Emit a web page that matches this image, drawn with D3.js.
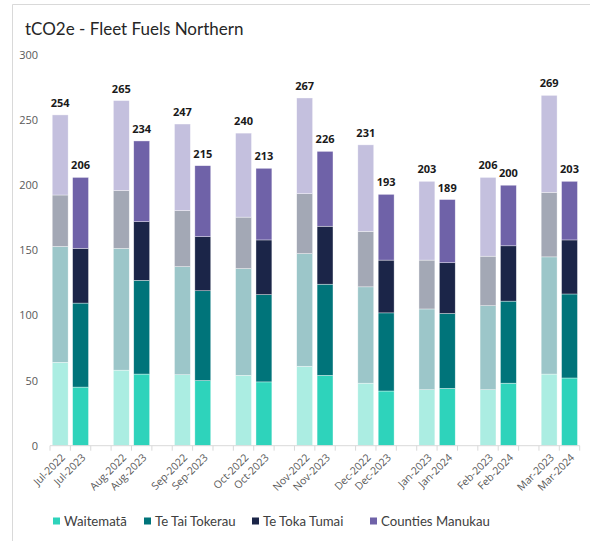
<!DOCTYPE html>
<html>
<head>
<meta charset="utf-8">
<script src="https://cdn.jsdelivr.net/npm/d3@7"></script>
<style>
	body { margin: 0; background: #fff; }
	svg { display: block; }
</style>
</head>
<body>
<div class="thegraph"></div>
<script>
var months = ["Jul-2022", "Jul-2023", "Aug-2022", "Aug-2023", "Sep-2022", "Sep-2023",
              "Oct-2022", "Oct-2023", "Nov-2022", "Nov-2023", "Dec-2022", "Dec-2023",
              "Jan-2023", "Jan-2024", "Feb-2023", "Feb-2024", "Mar-2023", "Mar-2024"];
var seriesNames = ["Waitematā", "Te Tai Tokerau", "Te Toka Tumai", "Counties Manukau"];
var waitemata = [64, 45, 58, 55, 54.5, 50, 54, 49, 61, 54, 48, 42, 43, 44, 43, 48, 55, 52];
var teTaiTokerau = [89, 64.5, 93.5, 72, 83, 69, 82, 67, 86.5, 70, 74, 60, 62, 57.5, 64.5, 63, 90, 64.5];
var teTokaTumai = [39.5, 42, 44.5, 45, 43, 41.5, 39.5, 42, 46, 44.5, 42.5, 40.5, 37.5, 39, 38, 42.5, 49.5, 41.5];
var countiesManukau = [61.5, 54.5, 69, 62, 66.5, 54.5, 64.5, 55, 73.5, 57.5, 66.5, 50.5, 60.5, 48.5, 60.5, 46.5, 74.5, 45];
var yTicks = [0, 50, 100, 150, 200, 250, 300];

// colours: [previous year, current year]
var colours = [
	["#abede2", "#2ed3bb"],
	["#9cc6c9", "#00747a"],
	["#a3a8b5", "#1b2548"],
	["#c4c0de", "#6f62a8"]
];

var w = 590;
var h = 541;
var plotLeft = 50, plotRight = 579.7, plotTop = 55, plotBottom = 445.7;

var svg = d3.select(".thegraph").append("svg")
	.attr("width", w)
	.attr("height", h)
	;

// frame
svg.append("path")
	.attr("d", "M12.5," + h + "V4.5H" + w)
	.attr("fill", "none")
	.attr("stroke", "#d9d9d9")
	.attr("stroke-width", 1)
	;

svg.append("text")
	.text("tCO2e - Fleet Fuels Northern")
	.attr("x", 25)
	.attr("y", 35)
	.attr("font-family", "Lato, sans-serif")
	.attr("font-size", "17px")
	.attr("fill", "#262626")
	;

// 3 slots per month pair: year 1, year 2, gap (no gap after last)
var slots = d3.range(months.length / 2 * 3 - 1);
var slotOf = function(i) { return Math.floor(i / 2) * 3 + i % 2; };

var x = d3.scaleBand()
	.domain(slots)
	.range([plotLeft, plotRight])
	.padding(0)
	;
var y = d3.scaleLinear()
	.domain([0, 300])
	.range([plotBottom, plotTop])
	;

var rows = months.map(function(m, i) {
	return {
		month: m,
		i: i,
		"Waitematā": waitemata[i],
		"Te Tai Tokerau": teTaiTokerau[i],
		"Te Toka Tumai": teTokaTumai[i],
		"Counties Manukau": countiesManukau[i]
	};
});
var stacked = d3.stack().keys(seriesNames)(rows);

var barW = x.bandwidth() * 0.78;
var barOff = (x.bandwidth() - barW) / 2;

svg.append("g")
	.selectAll("g")
	.data(stacked)
	.enter()
	.append("g")
	.each(function(s, k) {
		d3.select(this).selectAll("rect")
		.data(s)
		.enter()
		.append("rect")
		.attr("x", function(d) { return x(slotOf(d.data.i)) + barOff; })
		.attr("y", function(d) { return y(d[1]); })
		.attr("width", barW)
		.attr("height", function(d) { return y(d[0]) - y(d[1]); })
		.attr("fill", function(d) { return colours[k][d.data.i % 2]; })
		.attr("stroke", "#ffffff")
		.attr("stroke-opacity", 0.6)
		.attr("stroke-width", 0.6)
		;
	})
	;

// totals
svg.append("g")
	.selectAll("text")
	.data(stacked[stacked.length - 1])
	.enter()
	.append("text")
	.text(function(d) { return Math.round(d[1]); })
	.attr("x", function(d) { return x(slotOf(d.data.i)) + x.bandwidth() / 2; })
	.attr("y", function(d) { return y(d[1]) - 8; })
	.attr("text-anchor", "middle")
	.attr("font-family", "'Open Sans', sans-serif")
	.attr("font-weight", "bold")
	.attr("font-size", "11px")
	.attr("fill", "#1a1a1a")
	;

// y axis labels (no axis line)
var yAxis = d3.axisLeft(y).tickValues(yTicks).tickSize(0).tickPadding(0);
var gy = svg.append("g")
	.attr("transform", "translate(38,0)")
	.call(yAxis)
	;
gy.select(".domain").remove();
gy.selectAll("text")
	.attr("font-family", "'Open Sans', sans-serif")
	.attr("font-size", "11px")
	.attr("fill", "#595959")
	;

// x axis line and slot ticks
var gx = svg.append("g")
	.attr("transform", "translate(0," + plotBottom + ")")
	;
gx.append("line")
	.attr("x1", plotLeft)
	.attr("x2", plotRight)
	.attr("stroke", "#d9d9d9")
	.attr("stroke-width", 1)
	;
gx.selectAll("line.tick")
	.data(slots.concat([slots.length]))
	.enter()
	.append("line")
	.attr("class", "tick")
	.attr("x1", function(d) { return plotLeft + d * x.step(); })
	.attr("x2", function(d) { return plotLeft + d * x.step(); })
	.attr("y1", 0)
	.attr("y2", 5)
	.attr("stroke", "#d9d9d9")
	.attr("stroke-width", 1)
	;
gx.selectAll("text")
	.data(months)
	.enter()
	.append("text")
	.text(function(d) { return d; })
	.attr("transform", function(d, i) {
		return "translate(" + (x(slotOf(i)) + x.bandwidth() / 2 + 3) + ",10) rotate(-45)";
	})
	.attr("text-anchor", "end")
	.attr("dy", "0.35em")
	.attr("font-family", "'Open Sans', sans-serif")
	.attr("font-size", "10.5px")
	.attr("fill", "#595959")
	;

// legend
var legendX = [53, 144, 252, 370];
var legend = svg.append("g")
	.selectAll("g")
	.data(seriesNames)
	.enter()
	.append("g")
	.attr("transform", function(d, i) { return "translate(" + legendX[i] + ",521)"; })
	;
legend.append("rect")
	.attr("x", 0)
	.attr("y", -3.5)
	.attr("width", 7)
	.attr("height", 7)
	.attr("fill", function(d, i) { return colours[i][1]; })
	;
legend.append("text")
	.text(function(d) { return d; })
	.attr("x", 11)
	.attr("dy", "0.35em")
	.attr("font-family", "Lato, sans-serif")
	.attr("font-size", "13.2px")
	.attr("fill", "#404040")
	;
</script>
</body>
</html>
